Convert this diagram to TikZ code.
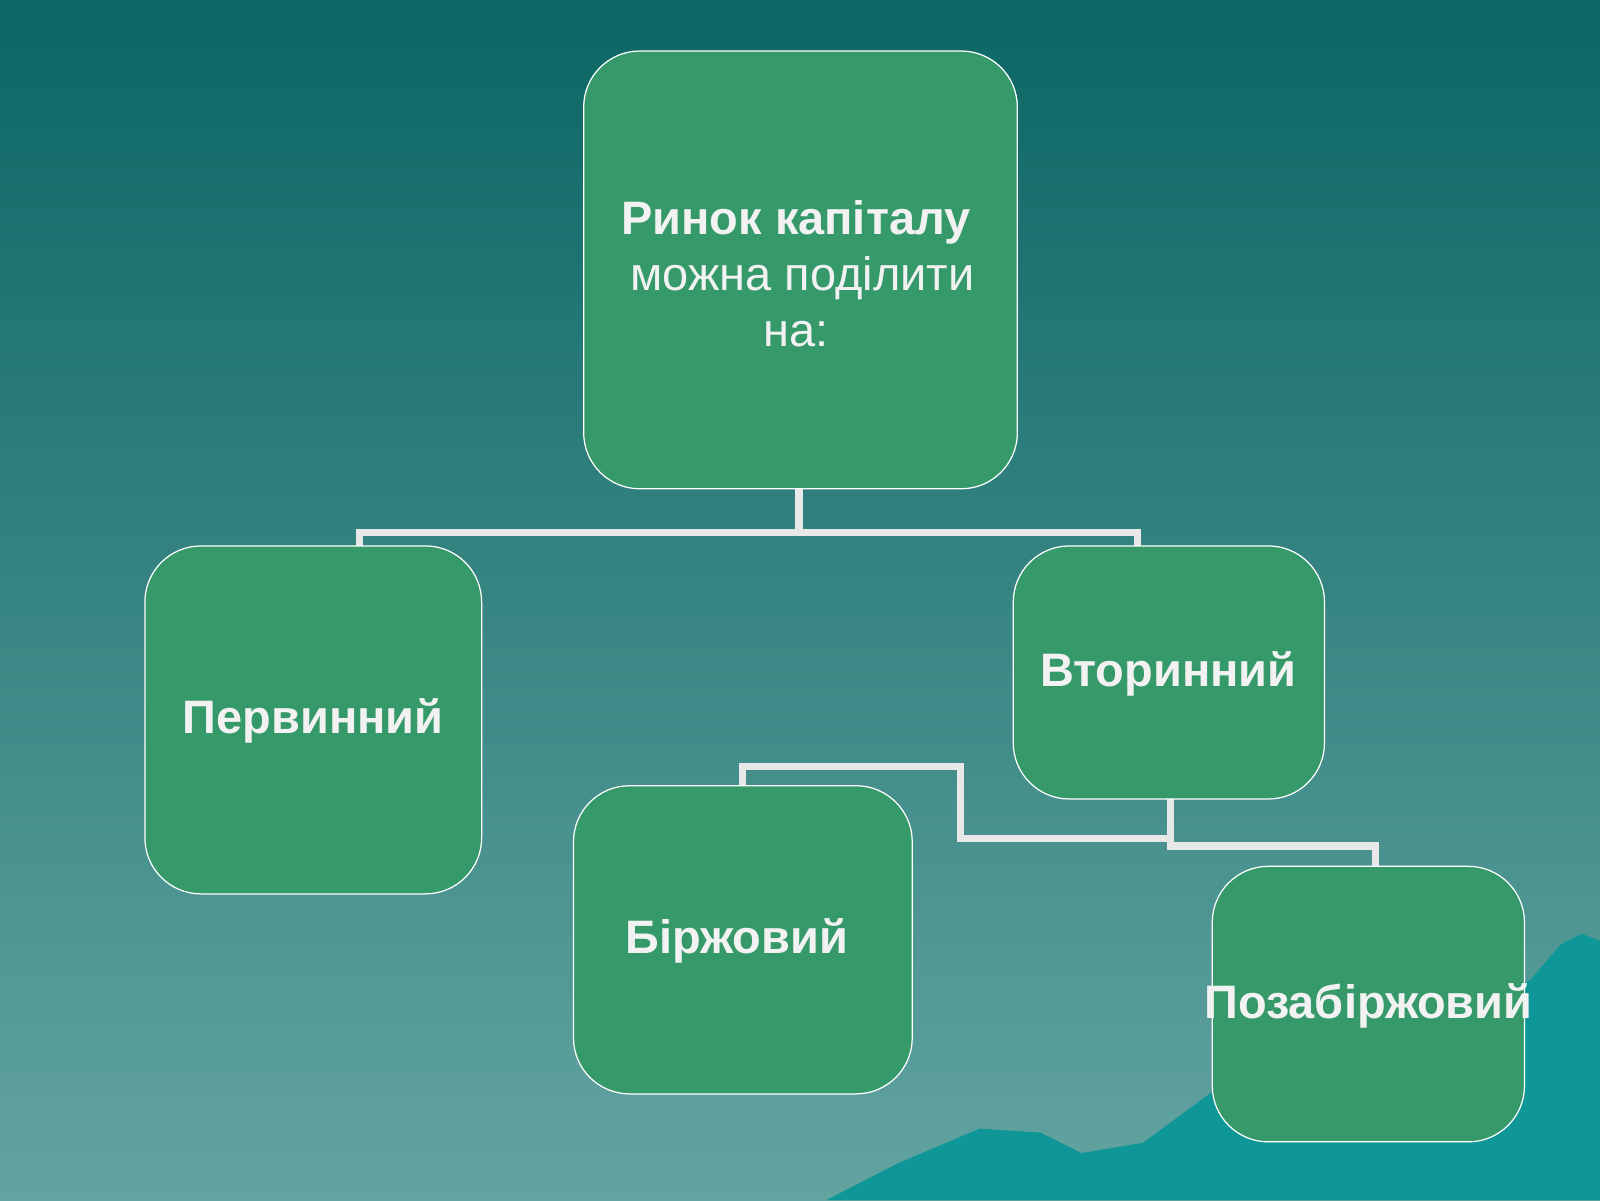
\documentclass[tikz,border=0pt]{standalone}
\usepackage{fontspec}
\setmainfont{Liberation Sans}
\definecolor{topc}{HTML}{0B6664}
\definecolor{botc}{HTML}{63A4A1}
\definecolor{boxc}{HTML}{36996A}
\definecolor{mnt}{HTML}{0F9797}
\definecolor{linec}{HTML}{E8E8E8}
\definecolor{txt}{HTML}{F2F2F2}
\tikzset{box/.style={draw=white,line width=1.2pt,fill=boxc,rounded corners=55pt},
 conn/.style={draw=linec,line width=7pt},
 lbl/.style={text=txt,font=\bfseries\fontsize{46}{55}\selectfont,align=center}}
\begin{document}
\begin{tikzpicture}[x=1pt,y=-1pt]
\shade[top color=topc,bottom color=botc] (0,0) rectangle (1568,1176);
\useasboundingbox (0,0) rectangle (1568,1176);
\fill[mnt] (810,1176) -- (880,1140) -- (960,1106) -- (1020,1110) -- (1060,1130) -- (1120,1120) -- (1188,1070) -- (1260,1060) -- (1330,1030) -- (1420,1000) -- (1500,960) -- (1530,925) -- (1550,915) -- (1568,922) -- (1568,1176) -- cycle;
\coordinate (j1) at (783,522);
\coordinate (j2) at (1147,822);
\draw[conn] (783,479) -- (j1) -- (352,522) -- (352,536);
\draw[conn] (j1) -- (1115,522) -- (1115,536);
\draw[conn] (1147,783) -- (j2) -- (941,822) -- (941,751) -- (728,751) -- (728,771);
\draw[conn] (j2) -- (1147,829) -- (1348,829) -- (1348,850);
\node[box,minimum width=425pt,minimum height=429pt] (top) at (784.5,264.5) {};
\node[box,minimum width=330pt,minimum height=341pt] (perv) at (307,705.5) {};
\node[box,minimum width=305pt,minimum height=248pt] (vtor) at (1145.5,659) {};
\node[box,minimum width=332pt,minimum height=302pt] (birzh) at (728,921) {};
\node[box,minimum width=306pt,minimum height=270pt] (poza) at (1341,984) {};
\node[lbl] at (780,268) {Ринок капіталу\\\mdseries\ можна поділити\\\mdseries на:};
\node[lbl] at (307,706) {Первинний};
\node[lbl] at (1145,660) {Вторинний};
\node[lbl] at (722,922) {Біржовий};
\node[lbl] at (1341,986) {Позабіржовий};
\end{tikzpicture}
\end{document}
